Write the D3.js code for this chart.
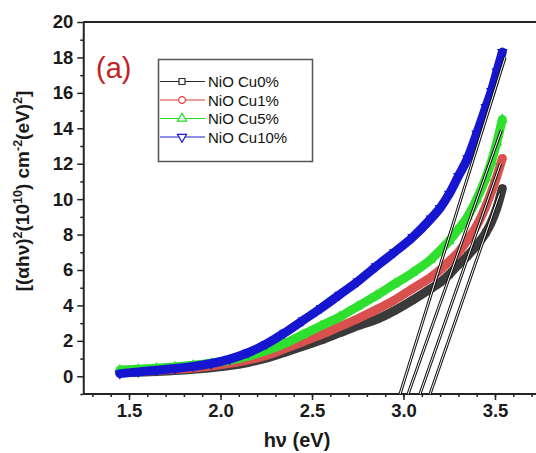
<!DOCTYPE html>
<html>
<head>
<meta charset="utf-8">
<script src="https://cdn.jsdelivr.net/npm/d3@7"></script>
<style>
  body { margin: 0; background: #fff; }
  svg text { font-family: "Liberation Sans", Arial, sans-serif; }
</style>
</head>
<body>
<div id="chart"></div>
<script>
// photon energy (eV), shared by every sample
var hv = [1.45, 1.55, 1.65, 1.75, 1.85, 1.95, 2.05, 2.15, 2.25, 2.35, 2.45, 2.55, 2.65, 2.75,
          2.85, 2.95, 3.05, 3.15, 3.2, 3.25, 3.3, 3.35, 3.4, 3.45, 3.48, 3.51, 3.54];

// (alpha h nu)^2 in 1e10 cm^-2 eV^2
var cu0  = [0.2, 0.23, 0.27, 0.32, 0.39, 0.48, 0.6, 0.78, 1.02, 1.35, 1.7, 2.05, 2.45, 2.85,
            3.2, 3.7, 4.3, 4.95, 5.3, 5.75, 6.3, 6.8, 7.4, 8.1, 8.7, 9.5, 10.6];
var cu1  = [0.25, 0.29, 0.33, 0.39, 0.47, 0.58, 0.73, 0.92, 1.18, 1.55, 1.95, 2.35, 2.8, 3.25,
            3.75, 4.3, 4.95, 5.6, 6.0, 6.5, 7.0, 7.7, 8.5, 9.6, 10.4, 11.3, 12.3];
var cu5  = [0.35, 0.4, 0.46, 0.53, 0.62, 0.74, 0.9, 1.13, 1.45, 1.85, 2.35, 2.85, 3.35, 3.95,
            4.55, 5.2, 5.85, 6.6, 7.1, 7.65, 8.3, 9.0, 10.0, 11.2, 12.1, 13.2, 14.5];
var cu10 = [0.15, 0.25, 0.34, 0.44, 0.56, 0.72, 0.97, 1.33, 1.82, 2.45, 3.15, 3.85, 4.6, 5.35,
            6.2, 7.0, 7.85, 8.9, 9.5, 10.3, 11.3, 12.3, 13.7, 15.2, 16.1, 17.2, 18.3];

var seriesNames = ["NiO Cu0%", "NiO Cu1%", "NiO Cu5%", "NiO Cu10%"];

// Tauc extrapolation lines: [hv, y] at the axis and at the top end
var fitStart = [[3.145, -1], [3.09, -1], [3.025, -1], [2.981, -1]];
var fitEnd   = [[3.525, 10.3], [3.53, 12.0], [3.535, 13.9], [3.555, 18.0]];

var xTicks = [1.5, 2.0, 2.5, 3.0, 3.5];
var yTicks = [0, 2, 4, 6, 8, 10, 12, 14, 16, 18, 20];

var W = 536, H = 453;
var colors = ["#2a2a2a", "#e03a3a", "#22dd22", "#1c1cd6"];
var bandColors = ["#3a3a3a", "#d9514f", "#2fe02f", "#1616d0"];
var symbols = [d3.symbolSquare, d3.symbolCircle, d3.symbolTriangle, d3.symbolTriangle];
var rotations = [0, 0, 0, 180];

var svg = d3.select("#chart").append("svg")
    .attr("width", W)
    .attr("height", H);

var x = d3.scaleLinear().domain([1.25, 3.75]).range([83.25, 540.75]);
var y = d3.scaleLinear().domain([-1, 20]).range([394, 22]);

// frame: top border runs off the right edge
svg.append("line")
    .attr("x1", x(1.25)).attr("x2", W + 10)
    .attr("y1", y(20)).attr("y2", y(20))
    .attr("stroke", "#222").attr("stroke-width", 2);

// minor ticks
svg.append("g")
    .attr("transform", "translate(0," + y(-1) + ")")
    .call(d3.axisBottom(x).tickValues(d3.range(13, 38).map(function(d) { return d / 10; }))
        .tickSize(3).tickFormat(""))
    .call(function(g) { g.select(".domain").remove(); })
    .selectAll("line").attr("stroke", "#222").attr("stroke-width", 1.5);

svg.append("g")
    .attr("transform", "translate(" + x(1.25) + ",0)")
    .call(d3.axisLeft(y).tickValues(d3.range(-1, 20, 2)).tickSize(3).tickFormat(""))
    .call(function(g) { g.select(".domain").remove(); })
    .selectAll("line").attr("stroke", "#222").attr("stroke-width", 1.5);

// major axes
var xAxis = svg.append("g")
    .attr("class", "x axis")
    .attr("transform", "translate(0," + y(-1) + ")")
    .call(d3.axisBottom(x).tickValues(xTicks).tickSize(6).tickPadding(4)
        .tickFormat(d3.format(".1f")).tickSizeOuter(0));

var yAxis = svg.append("g")
    .attr("class", "y axis")
    .attr("transform", "translate(" + x(1.25) + ",0)")
    .call(d3.axisLeft(y).tickValues(yTicks).tickSize(6).tickPadding(4).tickSizeOuter(0));

[xAxis, yAxis].forEach(function(g) {
    g.select(".domain").attr("stroke", "#222").attr("stroke-width", 2);
    g.selectAll(".tick line").attr("stroke", "#222").attr("stroke-width", 1.5);
    g.selectAll("text")
        .attr("font-size", 18.5)
        .attr("font-weight", "bold")
        .attr("fill", "#1a1a1a")
        .style("font-family", "'Liberation Sans', Arial, sans-serif");
});
xAxis.select(".domain").attr("d", "M" + x(1.25) + ",0H" + (W + 10));

// axis titles
svg.append("text")
    .attr("x", 297).attr("y", 447)
    .attr("text-anchor", "middle")
    .attr("font-size", 20).attr("font-weight", "bold").attr("fill", "#1a1a1a")
    .text("h\u03bd (eV)");

var yt = svg.append("text")
    .attr("text-anchor", "middle")
    .attr("transform", "translate(29," + 191 + ")rotate(-90)")
    .attr("font-size", 19).attr("font-weight", "bold").attr("fill", "#1a1a1a");
yt.append("tspan").text("[(\u03b1h\u03bd)");
yt.append("tspan").attr("baseline-shift", "super").attr("font-size", 12.5).text("2");
yt.append("tspan").text("(10");
yt.append("tspan").attr("baseline-shift", "super").attr("font-size", 12.5).text("10");
yt.append("tspan").text(") cm");
yt.append("tspan").attr("baseline-shift", "super").attr("font-size", 12.5).text("-2");
yt.append("tspan").text("(eV)");
yt.append("tspan").attr("baseline-shift", "super").attr("font-size", 12.5).text("2");
yt.append("tspan").text("]");

// data: dense marker band drawn as a thick line, markers on top
var allSeries = [cu0, cu1, cu5, cu10];
var line = d3.line()
    .x(function(d) { return x(d[0]); })
    .y(function(d) { return y(d[1]); })
    .curve(d3.curveMonotoneX);

allSeries.forEach(function(vals, i) {
    var pts = hv.map(function(h, k) { return [h, vals[k]]; });
    var g = svg.append("g").attr("class", "series");
    g.append("path")
        .attr("d", line(pts))
        .attr("fill", "none")
        .attr("stroke", bandColors[i])
        .attr("stroke-width", 9)
        .attr("stroke-linecap", "round");
    g.selectAll("path.pt")
        .data(pts)
        .enter().append("path")
        .attr("class", "pt")
        .attr("d", d3.symbol().type(symbols[i]).size(34))
        .attr("transform", function(d) {
            return "translate(" + x(d[0]) + "," + y(d[1]) + ")rotate(" + rotations[i] + ")";
        })
        .attr("fill", "none")
        .attr("stroke", bandColors[i])
        .attr("stroke-width", 1.1);
});

// extrapolation lines, drawn hollow
var fitLine = d3.line().x(function(d) { return x(d[0]); }).y(function(d) { return y(d[1]); });
fitStart.forEach(function(s, i) {
    var seg = [s, fitEnd[i]];
    svg.append("path")
        .attr("d", fitLine(seg))
        .attr("stroke", "#111").attr("stroke-width", 3).attr("fill", "none");
    svg.append("path")
        .attr("d", fitLine(seg))
        .attr("stroke", "#fff").attr("stroke-width", 1).attr("fill", "none");
});

// panel label
svg.append("text")
    .attr("x", 96).attr("y", 78)
    .attr("font-size", 29).attr("fill", "#c42127")
    .text("(a)");

// legend
var lg = svg.append("g").attr("class", "legend");
lg.append("rect")
    .attr("x", 158.5).attr("y", 59.5).attr("width", 154).attr("height", 102)
    .attr("fill", "#fff").attr("stroke", "#555").attr("stroke-width", 1.5);

seriesNames.forEach(function(name, i) {
    var ly = 81.5 + i * 18.5;
    lg.append("line")
        .attr("x1", 160).attr("x2", 205).attr("y1", ly).attr("y2", ly)
        .attr("stroke", colors[i]).attr("stroke-width", 1.2);
    lg.append("path")
        .attr("d", d3.symbol().type(symbols[i]).size(36))
        .attr("transform", "translate(182," + ly + ")rotate(" + rotations[i] + ")")
        .attr("fill", "#fff").attr("stroke", colors[i]).attr("stroke-width", 1.2);
    lg.append("text")
        .attr("x", 208).attr("y", ly + 5.5)
        .attr("font-size", 15).attr("fill", "#111")
        .text(name);
});
</script>
</body>
</html>
